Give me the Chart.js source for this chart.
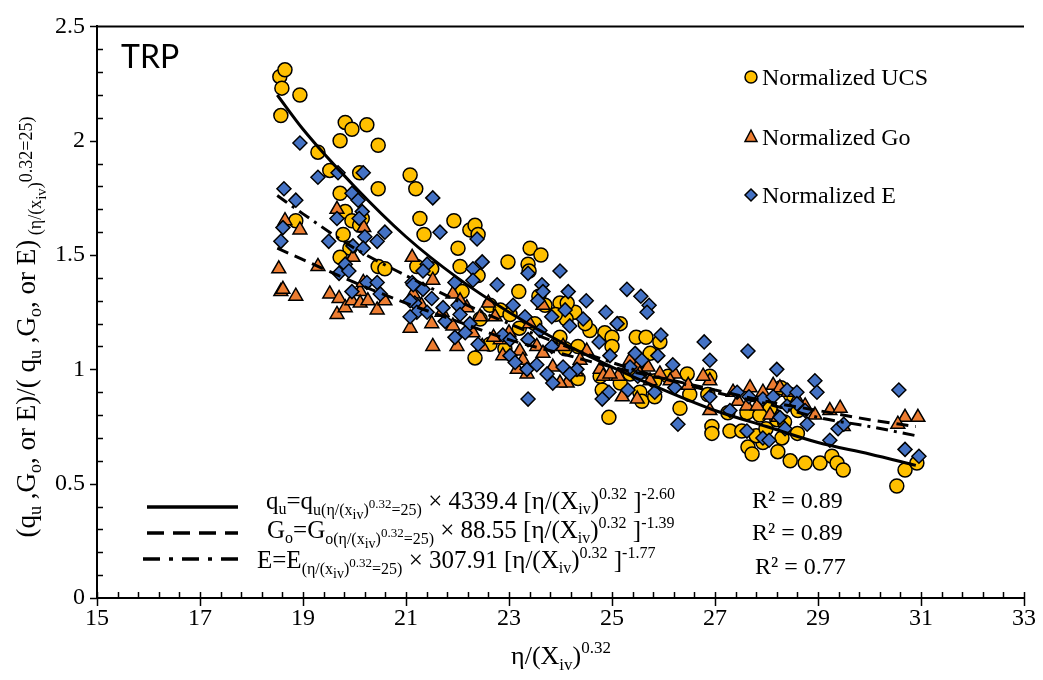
<!DOCTYPE html>
<html>
<head>
<meta charset="utf-8">
<title>TRP normalized stiffness and strength</title>
<script src="https://cdn.jsdelivr.net/npm/chart.js@4.4.1/dist/chart.umd.min.js"></script>
<style>
  html, body { margin: 0; padding: 0; background: #fff; }
  #wrap { width: 1043px; height: 680px; }
</style>
</head>
<body>
<div id="wrap"><canvas id="trpChart" width="1043" height="680"></canvas></div>
<script>
// ---- data: [eta/(Xiv)^0.32, normalized value] ----
const ucsPts = [
  [18.55,2.28],[18.65,2.31],[18.59,2.23],[18.94,2.20],[18.57,2.11],
  [19.82,2.08],[19.95,2.05],[20.24,2.07],[19.72,2.00],[20.46,1.98],
  [19.29,1.95],[19.52,1.87],[20.10,1.86],[19.72,1.77],[20.46,1.79],
  [18.86,1.65],[19.82,1.69],[19.95,1.65],[20.10,1.63],[19.78,1.59],
  [19.91,1.53],[20.15,1.66],[20.46,1.45],[20.59,1.44],[19.72,1.49],
  [21.08,1.85],[21.19,1.79],[21.27,1.66],[21.35,1.59],[21.93,1.65],
  [22.24,1.61],[22.34,1.63],[22.40,1.59],[22.01,1.53],[21.21,1.45],
  [21.50,1.44],[22.05,1.45],[23.41,1.53],[23.62,1.50],[23.37,1.46],
  [23.39,1.43],[22.98,1.47],[23.19,1.34],[23.58,1.32],[23.99,1.29],
  [24.28,1.25],[24.11,1.22],[22.40,1.41],[22.09,1.34],[22.63,1.28],
  [22.44,1.22],[22.83,1.26],[23.02,1.24],[23.20,1.18],[23.50,1.20],
  [23.70,1.28],[23.90,1.24],[22.34,1.05],[22.63,1.11],[22.92,1.09],
  [23.99,1.14],[24.09,1.09],[24.34,1.10],[24.57,1.17],[24.86,1.16],
  [25.00,1.14],[25.16,1.20],[25.47,1.14],[25.66,1.14],[25.74,1.07],
  [25.93,1.12],[24.94,0.79],[24.81,0.91],[24.77,0.97],[25.16,0.94],
  [25.35,0.98],[25.54,0.90],[25.83,0.95],[26.09,0.97],[26.46,0.98],
  [26.90,0.97],[26.86,0.89],[26.51,0.89],[26.32,0.83],[26.94,0.75],
  [26.94,0.72],[27.29,0.73],[27.52,0.73],[27.64,0.66],[27.72,0.63],
  [28.20,0.78],[28.07,0.83],[28.28,0.92],[28.46,0.89],[28.61,0.82],
  [28.75,0.59],[29.04,0.59],[29.27,0.62],[29.37,0.59],[29.49,0.56],
  [28.46,0.60],[28.22,0.64],[27.93,0.68],[27.80,0.71],[27.25,0.81],
  [27.62,0.81],[27.87,0.80],[28.35,0.77],[27.99,0.74],[30.53,0.49],
  [30.69,0.56],[30.92,0.59],[28.30,0.70],[28.60,0.72],[24.13,1.29],
  [24.48,1.20],[25.00,1.10],[24.34,0.96],[25.58,0.86],[25.83,0.88]
];
const goPts = [
  [18.53,1.44],[18.57,1.34],[18.61,1.35],[18.86,1.32],[18.65,1.65],
  [18.94,1.61],[19.29,1.45],[19.52,1.33],[19.70,1.31],[19.66,1.24],
  [19.82,1.27],[19.66,1.70],[19.95,1.30],[20.11,1.34],[20.11,1.29],
  [20.26,1.30],[20.44,1.26],[20.59,1.30],[20.18,1.62],[19.97,1.49],
  [20.17,1.38],[21.12,1.49],[21.08,1.18],[21.52,1.39],[21.14,1.33],
  [21.52,1.10],[21.50,1.20],[21.91,1.33],[21.91,1.19],[21.99,1.10],
  [22.18,1.27],[22.30,1.16],[22.44,1.23],[22.48,1.10],[22.73,1.23],
  [22.83,1.13],[22.88,1.06],[23.21,1.08],[23.27,1.04],[23.54,1.10],
  [23.66,1.07],[23.66,1.28],[23.85,1.01],[24.05,1.10],[24.13,0.94],
  [23.99,0.94],[23.35,0.98],[23.16,1.00],[24.51,1.08],[24.38,1.04],
  [24.77,1.00],[24.83,0.97],[25.12,0.97],[25.35,1.04],[25.49,1.01],
  [25.70,1.01],[25.93,0.98],[25.49,0.87],[26.22,0.98],[26.48,0.93],
  [26.90,0.95],[25.74,0.95],[25.54,0.98],[24.96,0.98],[26.13,0.95],
  [27.68,0.92],[27.45,0.86],[27.62,0.84],[27.82,0.84],[27.93,0.90],
  [28.13,0.93],[28.26,0.92],[28.07,0.80],[28.22,0.79],[28.42,0.90],
  [28.59,0.87],[28.75,0.84],[28.94,0.80],[29.23,0.82],[29.43,0.83],
  [29.49,0.75],[30.69,0.79],[30.94,0.79],[30.55,0.76],[26.77,0.97],
  [26.90,0.82],[27.35,0.90],[22.60,1.29],[21.30,1.28],[21.70,1.25],
  [22.05,1.30],[23.00,1.16],[23.40,1.20],[24.30,0.99],[25.20,0.88],
  [22.70,1.14]
];
const ePts = [
  [18.63,1.79],[18.94,1.99],[18.86,1.74],[19.29,1.84],[18.61,1.62],
  [18.57,1.56],[19.50,1.56],[19.66,1.66],[19.68,1.86],[19.70,1.42],
  [20.17,1.86],[19.95,1.77],[20.07,1.74],[20.15,1.69],[20.09,1.66],
  [20.59,1.60],[20.44,1.56],[20.20,1.58],[19.97,1.54],[20.17,1.53],
  [19.82,1.46],[19.89,1.43],[20.24,1.38],[20.44,1.38],[19.95,1.34],
  [20.50,1.33],[21.12,1.38],[21.17,1.29],[21.52,1.75],[21.66,1.60],
  [22.38,1.57],[23.99,1.43],[23.37,1.42],[22.48,1.47],[22.30,1.44],
  [22.77,1.37],[23.64,1.37],[23.66,1.34],[24.15,1.34],[21.41,1.46],
  [21.33,1.43],[21.14,1.37],[21.33,1.35],[21.08,1.30],[21.50,1.31],
  [21.21,1.25],[21.08,1.23],[21.41,1.25],[21.72,1.27],[21.76,1.21],
  [21.95,1.38],[22.01,1.28],[22.05,1.24],[22.30,1.39],[22.24,1.20],
  [21.95,1.14],[22.40,1.11],[22.15,1.16],[23.08,1.28],[23.31,1.23],
  [23.56,1.30],[23.83,1.23],[24.09,1.26],[22.88,1.15],[23.02,1.13],
  [23.37,1.13],[23.60,1.17],[23.83,1.10],[23.02,1.06],[23.12,1.03],
  [23.35,1.00],[23.54,1.02],[23.74,0.98],[23.85,0.94],[24.05,1.01],
  [23.37,0.87],[25.29,1.35],[25.56,1.32],[25.72,1.28],[25.68,1.25],
  [24.50,1.30],[24.88,1.25],[24.44,1.22],[25.10,1.20],[24.18,1.19],
  [24.75,1.12],[25.95,1.15],[26.79,1.12],[26.90,1.04],[24.96,1.06],
  [25.45,1.07],[25.89,1.06],[26.18,1.02],[25.58,1.04],[25.35,1.01],
  [24.32,1.00],[24.18,0.98],[25.50,0.97],[24.94,0.90],[24.81,0.87],
  [25.31,0.91],[26.22,0.92],[26.90,0.88],[26.28,0.76],[25.83,0.90],
  [27.64,1.08],[28.20,1.00],[28.94,0.95],[28.98,0.90],[30.57,0.91],
  [27.43,0.90],[27.29,0.82],[27.66,0.88],[27.93,0.87],[28.13,0.88],
  [28.40,0.91],[28.59,0.90],[28.40,0.84],[28.75,0.82],[28.59,0.85],
  [28.26,0.79],[28.36,0.74],[28.79,0.76],[27.62,0.73],[27.93,0.70],
  [28.05,0.69],[29.23,0.69],[29.39,0.74],[29.50,0.76],[30.69,0.65],
  [30.96,0.62]
];

// fitted power-law curves as drawn on the figure
const fitX  = [18.5, 19, 20, 21, 22, 23, 24, 25, 26, 27, 28, 29, 30, 30.9];
const fitQu = [2.20, 2.05, 1.80, 1.58, 1.40, 1.25, 1.12, 1.01, 0.91, 0.82, 0.75, 0.68, 0.63, 0.58];
const fitGo = [1.53, 1.48, 1.38, 1.29, 1.21, 1.13, 1.07, 1.01, 0.96, 0.91, 0.86, 0.82, 0.78, 0.75];
const fitE  = [1.76, 1.68, 1.53, 1.41, 1.30, 1.20, 1.11, 1.03, 0.96, 0.90, 0.85, 0.79, 0.75, 0.71];

const xTicks = [15, 17, 19, 21, 23, 25, 27, 29, 31, 33];
const yTicks = [0, 0.5, 1, 1.5, 2, 2.5];

const SERIF = '"Liberation Serif", "Times New Roman", serif';
const toXY = arr => arr.map(p => ({ x: p[0], y: p[1] }));
const curve = ys => fitX.map((x, i) => ({ x: x, y: ys[i] }));

// draws text made of pieces with their own size and baseline shift
function rich(ctx, x, y, segs) {
  let cx = x;
  for (const [t, size, dy] of segs) {
    ctx.font = size + 'px ' + SERIF;
    ctx.fillText(t, cx, y + dy);
    cx += ctx.measureText(t).width;
  }
  return cx;
}
function richWidth(ctx, segs) {
  let w = 0;
  for (const [t, size] of segs) {
    ctx.font = size + 'px ' + SERIF;
    w += ctx.measureText(t).width;
  }
  return w;
}

function marker(ctx, type, x, y, fill) {
  ctx.save();
  ctx.fillStyle = fill;
  ctx.strokeStyle = '#000';
  ctx.lineWidth = 1.5;
  ctx.beginPath();
  if (type === 'circle') {
    ctx.arc(x, y, 6, 0, Math.PI * 2);
  } else if (type === 'triangle') {
    ctx.moveTo(x, y - 7);
    ctx.lineTo(x + 6, y + 4.5);
    ctx.lineTo(x - 6, y + 4.5);
    ctx.closePath();
  } else {
    ctx.moveTo(x, y - 6);
    ctx.lineTo(x + 6, y);
    ctx.lineTo(x, y + 6);
    ctx.lineTo(x - 6, y);
    ctx.closePath();
  }
  ctx.fill();
  ctx.stroke();
  ctx.restore();
}

const decor = {
  id: 'decor',
  afterDraw(chart) {
    const ctx = chart.ctx;
    const xs = chart.scales.x, ys = chart.scales.y;
    const a = chart.chartArea;
    ctx.save();
    ctx.strokeStyle = '#000';
    ctx.fillStyle = '#000';

    // frame top
    ctx.lineWidth = 2;
    ctx.beginPath();
    ctx.moveTo(a.left, a.top);
    ctx.lineTo(a.right, a.top);
    ctx.stroke();

    // y ticks: major outside, minor inside
    ctx.lineWidth = 1.5;
    for (let v = 0; v <= 2.5001; v += 0.1) {
      const py = Math.round(ys.getPixelForValue(v)) + 0.5;
      const major = Math.abs(v * 2 - Math.round(v * 2)) < 1e-6;
      ctx.beginPath();
      if (major) { ctx.moveTo(a.left - 7, py); ctx.lineTo(a.left, py); }
      else { ctx.moveTo(a.left, py); ctx.lineTo(a.left + 6, py); }
      ctx.stroke();
    }
    // x ticks: major crossing, minor inside
    for (let v = 15; v <= 33.001; v += 0.4) {
      const px = Math.round(xs.getPixelForValue(v)) + 0.5;
      const major = Math.abs((v - 15) / 2 - Math.round((v - 15) / 2)) < 1e-6;
      ctx.beginPath();
      if (major) { ctx.moveTo(px, a.bottom - 6); ctx.lineTo(px, a.bottom + 8); }
      else { ctx.moveTo(px, a.bottom - 6); ctx.lineTo(px, a.bottom); }
      ctx.stroke();
    }

    // sample label
    ctx.font = '32px Lato, "Open Sans", sans-serif';
    ctx.textBaseline = 'alphabetic';
    ctx.textAlign = 'left';
    ctx.fillText('TRP', 121, 68);

    // series legend
    marker(ctx, 'circle', 751, 77, '#FFC000');
    marker(ctx, 'triangle', 751, 137, '#ED7D31');
    marker(ctx, 'diamond', 751, 195, '#4472C4');
    ctx.font = '24px ' + SERIF;
    ctx.fillText('Normalized UCS', 762, 85);
    ctx.fillText('Normalized Go', 762, 145);
    ctx.fillText('Normalized E', 762, 203);

    // fit legend lines
    ctx.lineWidth = 3.5;
    ctx.setLineDash([]);
    ctx.beginPath(); ctx.moveTo(147, 507); ctx.lineTo(238, 507); ctx.stroke();
    ctx.setLineDash([17, 9]);
    ctx.beginPath(); ctx.moveTo(147, 533); ctx.lineTo(238, 533); ctx.stroke();
    ctx.setLineDash([17, 9, 4, 9]);
    ctx.beginPath(); ctx.moveTo(143, 559); ctx.lineTo(238, 559); ctx.stroke();
    ctx.setLineDash([]);

    // fit equations
    rich(ctx, 266, 509, [['q',25,0],['u',16,5],['=q',25,0],['u(η/(x',16,6],['iv',14,10],[')',16,6],
      ['0.32',13,-1],['=25)',16,6],[' × 4339.4 [η/(X',25,0],['iv',16,5],[')',25,0],['0.32',16,-10],
      [' ]',25,0],['-2.60',16,-10]]);
    rich(ctx, 267, 538, [['G',25,0],['o',16,5],['=G',25,0],['o(η/(x',16,6],['iv',14,10],[')',16,6],
      ['0.32',13,-1],['=25)',16,6],[' × 88.55 [η/(X',25,0],['iv',16,5],[')',25,0],['0.32',16,-10],
      [' ]',25,0],['-1.39',16,-10]]);
    rich(ctx, 257, 568, [['E=E',25,0],['(η/(x',16,6],['iv',14,10],[')',16,6],
      ['0.32',13,-1],['=25)',16,6],[' × 307.91 [η/(X',25,0],['iv',16,5],[')',25,0],['0.32',16,-10],
      [' ]',25,0],['-1.77',16,-10]]);
    ctx.font = '24px ' + SERIF;
    ctx.fillText('R² = 0.89', 752, 508);
    ctx.fillText('R² = 0.89', 752, 540);
    ctx.fillText('R² = 0.77', 755, 574);

    // x axis title
    const xt = [['η/(X',26,0],['iv',17,6],[')',26,0],['0.32',17,-11]];
    rich(ctx, 561 - richWidth(ctx, xt) / 2, 664, xt);

    // y axis title (rotated)
    const yt = [['(q',27,0],['u',18,6],[' ,G',27,0],['o',18,6],[', or E)/( q',27,0],['u',18,6],
      [' ,G',27,0],['o',18,6],[', or E)',27,0],[' (η/(x',18,6],['iv',15,11],[')',18,6],['0.32=25)',18,-3]];
    const yw = richWidth(ctx, yt);
    ctx.translate(35, 327);
    ctx.rotate(-Math.PI / 2);
    rich(ctx, -yw / 2, 0, yt);
    ctx.restore();
  }
};

new Chart(document.getElementById('trpChart'), {
  type: 'scatter',
  data: {
    datasets: [
      { label: 'qu fit', type: 'line', data: curve(fitQu), borderColor: '#000', borderWidth: 3,
        pointRadius: 0, fill: false, cubicInterpolationMode: 'monotone', order: 0 },
      { label: 'Go fit', type: 'line', data: curve(fitGo), borderColor: '#000', borderWidth: 3,
        borderDash: [12, 7], pointRadius: 0, fill: false, cubicInterpolationMode: 'monotone', order: 0 },
      { label: 'E fit', type: 'line', data: curve(fitE), borderColor: '#000', borderWidth: 3,
        borderDash: [12, 6, 3, 6], pointRadius: 0, fill: false, cubicInterpolationMode: 'monotone', order: 0 },
      { label: 'Normalized E', data: toXY(ePts), pointStyle: 'rectRot', pointRadius: 7,
        backgroundColor: '#4472C4', borderColor: '#000', borderWidth: 1.5, order: 1 },
      { label: 'Normalized Go', data: toXY(goPts), pointStyle: 'triangle', pointRadius: 8,
        backgroundColor: '#ED7D31', borderColor: '#000', borderWidth: 1.5, order: 2 },
      { label: 'Normalized UCS', data: toXY(ucsPts), pointStyle: 'circle', pointRadius: 7,
        backgroundColor: '#FFC000', borderColor: '#000', borderWidth: 1.5, order: 3 }
    ]
  },
  options: {
    responsive: false,
    animation: false,
    devicePixelRatio: 1,
    layout: { padding: { top: 18, right: 19, left: 0, bottom: 0 } },
    plugins: { legend: { display: false }, tooltip: { enabled: false } },
    scales: {
      x: {
        type: 'linear', min: 15, max: 33,
        afterFit: s => { s.height = 82; },
        afterBuildTicks: s => { s.ticks = xTicks.map(v => ({ value: v })); },
        grid: { display: false, drawTicks: false },
        border: { display: true, color: '#000', width: 2 },
        ticks: { color: '#000', padding: 6, font: { family: SERIF, size: 24 } }
      },
      y: {
        type: 'linear', min: 0, max: 2.5,
        afterFit: s => { s.width = 97; },
        afterBuildTicks: s => { s.ticks = yTicks.map(v => ({ value: v })); },
        grid: { display: false, drawTicks: false },
        border: { display: true, color: '#000', width: 2 },
        ticks: { color: '#000', padding: 12, font: { family: SERIF, size: 24 },
          callback: v => String(Math.round(v * 10) / 10) }
      }
    }
  },
  plugins: [decor]
});
</script>
</body>
</html>
